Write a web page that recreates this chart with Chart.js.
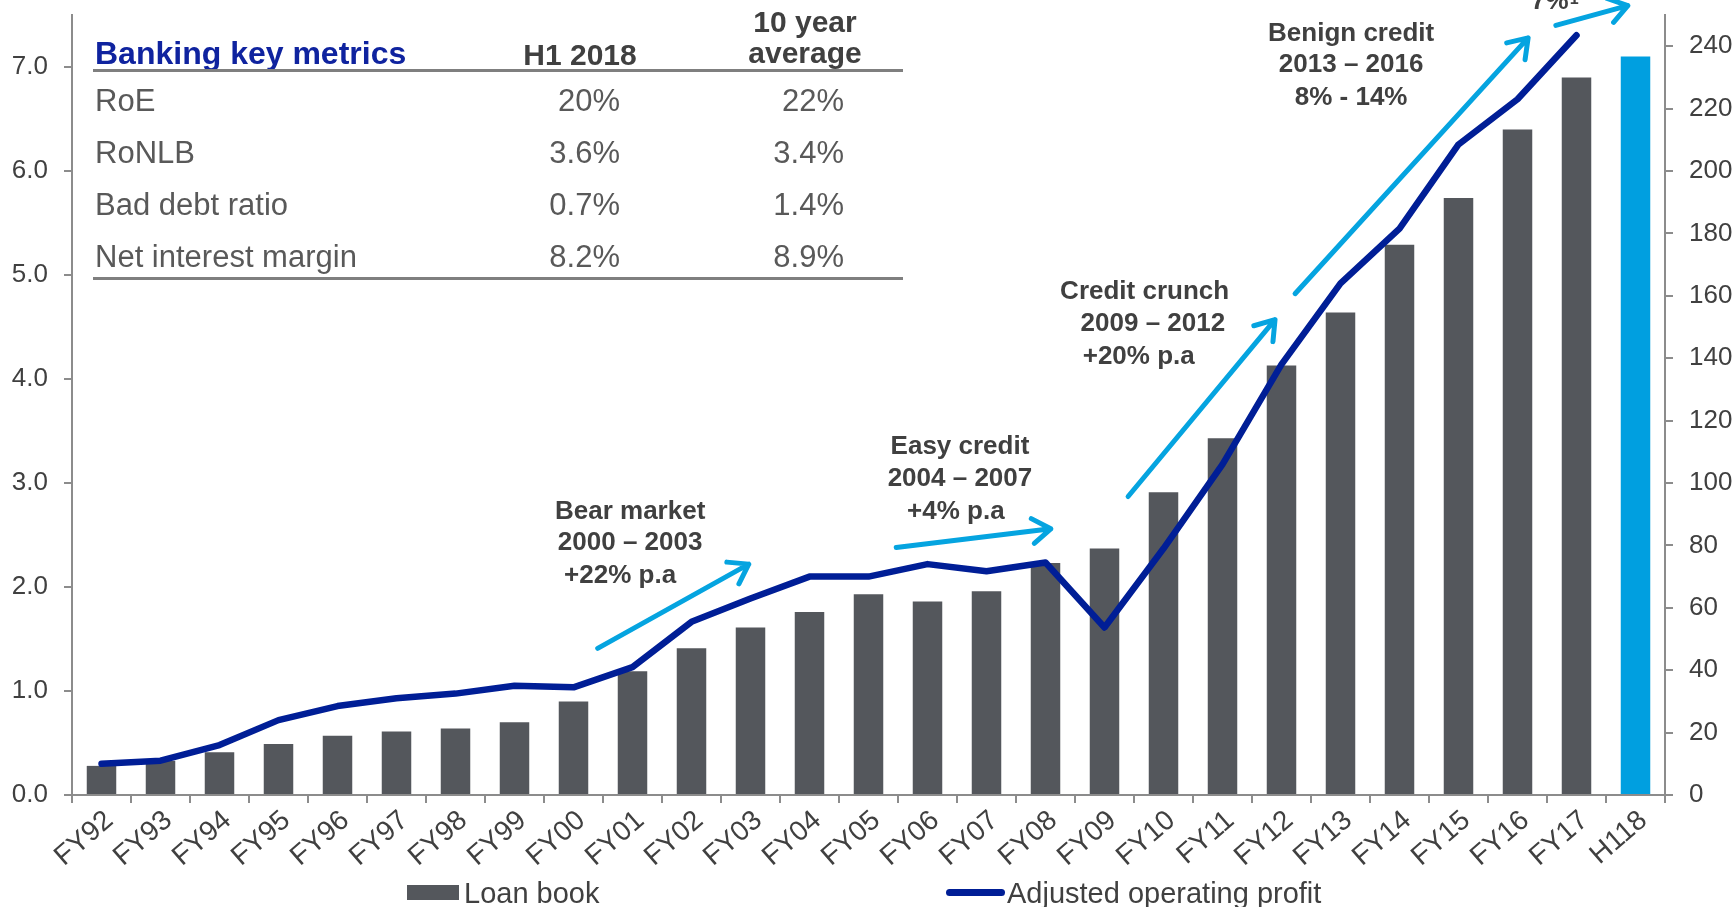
<!DOCTYPE html>
<html>
<head>
<meta charset="utf-8">
<script src="https://cdn.jsdelivr.net/npm/chart.js@4.4.1/dist/chart.umd.min.js"></script>
<style>
  body { margin: 0; background: #fff; font-family: "Liberation Sans", Arial, sans-serif; }
  #wrap { position: relative; width: 1735px; height: 907px; overflow: hidden; }
  #chart { position: absolute; left: 0; top: 0; }
  .t { position: absolute; white-space: nowrap; line-height: 1; transform: translateY(-50%); }
  .c { transform: translate(-50%, -50%); }
  .r { transform: translate(-100%, -50%); }
  .head { font-weight: bold; font-size: 30px; color: #404040; }
  .row { font-size: 31px; color: #595959; }
  .rule { position: absolute; left: 93px; width: 810px; height: 3px; background: #7f7f7f; }
  .leg { font-size: 29px; color: #404040; }
</style>
</head>
<body>
<div id="wrap">
  <canvas id="chart" width="1735" height="907"></canvas>

  <!-- key metrics table -->
  <div class="t" style="left:95px; top:53px; font-weight:bold; font-size:32px; color:#0f239f;">Banking key metrics</div>
  <div class="t c head" style="left:580px; top:55px;">H1 2018</div>
  <div class="t c head" style="left:805px; top:22px;">10 year</div>
  <div class="t c head" style="left:805px; top:53px;">average</div>
  <div class="rule" style="top:69px;"></div>
  <div id="rows"></div>
  <div class="rule" style="top:277px;"></div>

  <!-- legend -->
  <div style="position:absolute; left:407px; top:885px; width:52px; height:15px; background:#54575c;"></div>
  <div class="t leg" style="left:464px; top:893px;">Loan book</div>
  <div style="position:absolute; left:946px; top:889px; width:59px; height:7px; border-radius:4px; background:#001e96;"></div>
  <div class="t leg" style="left:1007px; top:893px;">Adjusted operating profit</div>
</div>

<script>
const categories = ['FY92', 'FY93', 'FY94', 'FY95', 'FY96', 'FY97', 'FY98', 'FY99', 'FY00', 'FY01',
    'FY02', 'FY03', 'FY04', 'FY05', 'FY06', 'FY07', 'FY08', 'FY09', 'FY10', 'FY11',
    'FY12', 'FY13', 'FY14', 'FY15', 'FY16', 'FY17', 'H118'];
const loanBook = [0.28, 0.33, 0.41, 0.49, 0.57, 0.61, 0.64, 0.70, 0.90, 1.19,
    1.41, 1.61, 1.76, 1.93, 1.86, 1.96, 2.23, 2.37, 2.91, 3.43,
    4.13, 4.64, 5.29, 5.74, 6.40, 6.90, 7.10];
const operatingProfit = [10, 11, 16, 24, 28.5, 31, 32.5, 35, 34.5, 41,
    55.5, 63, 70, 70, 74, 71.7, 74.5, 53.7, 79, 106,
    138, 164, 181.5, 208.5, 223, 243.5, null];

const metricNames = ['RoE', 'RoNLB', 'Bad debt ratio', 'Net interest margin'];
const metricH1 = ['20%', '3.6%', '0.7%', '8.2%'];
const metricAvg = ['22%', '3.4%', '1.4%', '8.9%'];

// growth arrows: [fromCategory, fromValue, toCategory, toValue] on the left axis
const arrows = [
    [8.41, 1.41, 10.97, 2.22],
    [13.47, 2.38, 16.09, 2.56],
    [17.40, 2.87, 19.89, 4.57],
    [20.23, 4.82, 24.18, 7.28],
    [24.65, 7.40, 25.87, 7.59]
];
const notes = [
    [8.96, 2.72, 'Bear market'], [8.96, 2.42, '2000 \u2013 2003'], [8.79, 2.11, '+22% p.a'],
    [14.55, 3.35, 'Easy credit'], [14.55, 3.04, '2004 \u2013 2007'], [14.48, 2.72, '+4% p.a'],
    [17.68, 4.84, 'Credit crunch'], [17.82, 4.53, '2009 \u2013 2012'], [17.58, 4.21, '+20% p.a'],
    [21.18, 7.32, 'Benign credit'], [21.18, 7.02, '2013 \u2013 2016'], [21.18, 6.70, '8% - 14%']
];

const GRAY = '#54575c';
const BLUE = '#009fe0';
const NAVY = '#001e96';
const AXIS = '#8c8c8c';
const FONT = '"Liberation Sans", Arial, sans-serif';

let rowsHtml = '';
for (let i = 0; i < metricNames.length; i++) {
    let y = 100 + i * 52;
    rowsHtml += `<div class="t row" style="left:95px; top:${y}px;">${metricNames[i]}</div>
      <div class="t r row" style="left:620px; top:${y}px;">${metricH1[i]}</div>
      <div class="t r row" style="left:844px; top:${y}px;">${metricAvg[i]}</div>`;
}
document.getElementById('rows').innerHTML = rowsHtml;

const notesPlugin = {
    id: 'notes',
    afterDatasetsDraw(chart) {
        const ctx = chart.ctx;
        const x = chart.scales.x;
        const y = chart.scales.y;
        const px = v => x.getPixelForValue(0) + v * (x.getPixelForValue(1) - x.getPixelForValue(0));
        ctx.save();
        ctx.strokeStyle = '#05a4e0';
        ctx.lineWidth = 5;
        ctx.lineCap = 'round';
        ctx.lineJoin = 'round';
        arrows.forEach(a => {
            let x1 = px(a[0]), y1 = y.getPixelForValue(a[1]);
            let x2 = px(a[2]), y2 = y.getPixelForValue(a[3]);
            let ang = Math.atan2(y2 - y1, x2 - x1);
            ctx.beginPath();
            ctx.moveTo(x1, y1);
            ctx.lineTo(x2, y2);
            ctx.moveTo(x2 - 22 * Math.cos(ang - 0.6), y2 - 22 * Math.sin(ang - 0.6));
            ctx.lineTo(x2, y2);
            ctx.lineTo(x2 - 22 * Math.cos(ang + 0.6), y2 - 22 * Math.sin(ang + 0.6));
            ctx.stroke();
        });
        ctx.fillStyle = '#404040';
        ctx.font = 'bold 26px ' + FONT;
        ctx.textAlign = 'center';
        ctx.textBaseline = 'middle';
        notes.forEach(n => ctx.fillText(n[2], px(n[0]), y.getPixelForValue(n[1])));
        // label cut off at the very top
        ctx.textAlign = 'left';
        ctx.textBaseline = 'alphabetic';
        let tx = px(24.23), ty = y.getPixelForValue(7.56);
        ctx.fillText('7%', tx, ty);
        let w = ctx.measureText('7%').width;
        ctx.font = 'bold 16px ' + FONT;
        ctx.fillText('1', tx + w + 1, ty - 5);
        ctx.restore();
    }
};

const tickFont = { family: FONT, size: 26 };

// keep the plot area exactly where the original has it
function fixY(width) {
    return s => { s.width = width; s.paddingTop = 0; s.paddingBottom = 0; };
}

new Chart(document.getElementById('chart'), {
    type: 'bar',
    data: {
        labels: categories,
        datasets: [{
            label: 'Adjusted operating profit',
            type: 'line',
            data: operatingProfit,
            yAxisID: 'y1',
            borderColor: NAVY,
            borderWidth: 6.5,
            borderCapStyle: 'round',
            borderJoinStyle: 'round',
            pointRadius: 0,
            tension: 0,
            order: 0
        }, {
            label: 'Loan book',
            data: loanBook,
            yAxisID: 'y',
            backgroundColor: ctx => categories[ctx.dataIndex] === 'H118' ? BLUE : GRAY,
            barPercentage: 0.5,
            categoryPercentage: 1,
            order: 1
        }]
    },
    options: {
        responsive: false,
        animation: false,
        devicePixelRatio: 1,
        layout: { padding: { top: 15, left: 0, right: 0, bottom: 0 } },
        plugins: {
            legend: { display: false },
            tooltip: { enabled: false }
        },
        scales: {
            x: {
                grid: { offset: true, drawOnChartArea: false, tickLength: 8, color: AXIS, lineWidth: 2 },
                border: { color: AXIS, width: 2 },
                ticks: { autoSkip: false, minRotation: 41, maxRotation: 41, font: { family: FONT, size: 28 },
                    color: '#404040', padding: 1, labelOffset: 8 },
                afterFit: s => { s.height = 112; }
            },
            y: {
                position: 'left',
                min: 0,
                max: 7.5,
                grid: { drawOnChartArea: false, tickLength: 8, color: AXIS, lineWidth: 2 },
                border: { color: AXIS, width: 2 },
                ticks: { stepSize: 1, includeBounds: false, font: tickFont, color: '#404040', padding: 16,
                    callback: v => v.toFixed(1) },
                afterFit: fixY(72)
            },
            y1: {
                position: 'right',
                min: 0,
                max: 250,
                grid: { drawOnChartArea: false, tickLength: 8, color: AXIS, lineWidth: 2 },
                border: { color: AXIS, width: 2 },
                ticks: { stepSize: 20, includeBounds: false, font: tickFont, color: '#404040', padding: 16 },
                afterFit: fixY(70)
            }
        }
    },
    plugins: [notesPlugin]
});
</script>
</body>
</html>
